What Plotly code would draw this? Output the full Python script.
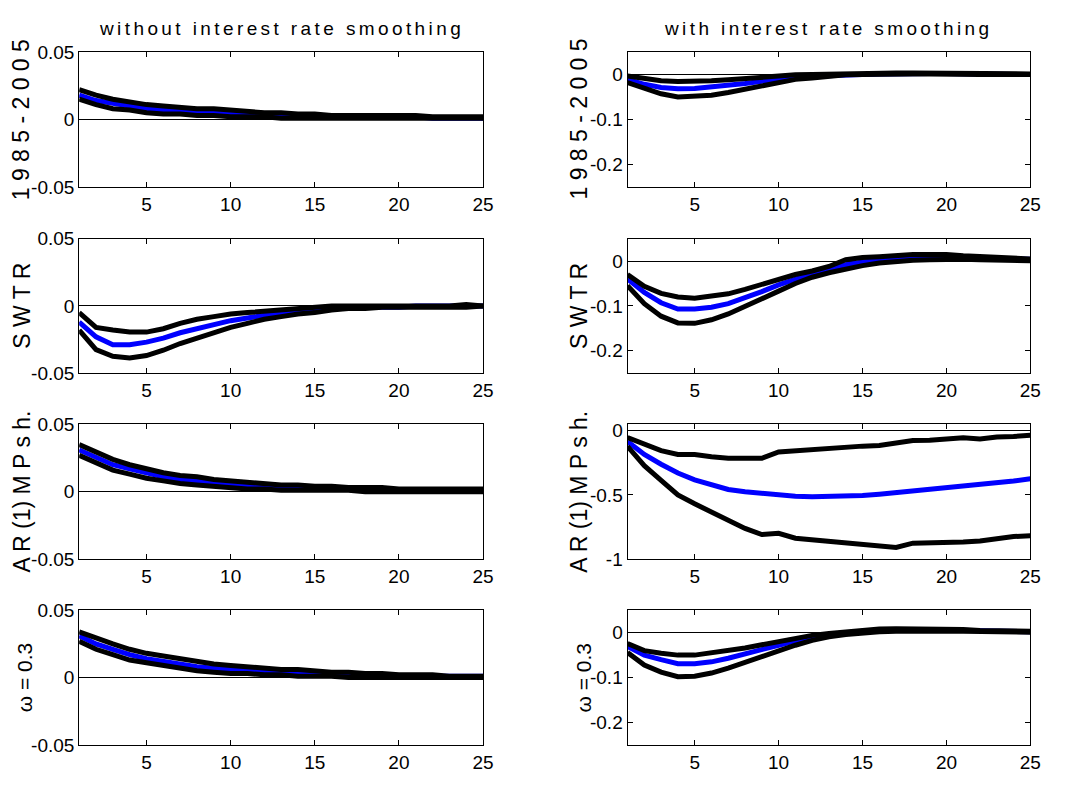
import plotly.graph_objects as go
from plotly.subplots import make_subplots

# horizon (quarters)
horizon = list(range(1, 26))

# ---- left column: without interest rate smoothing ----
l1_upper = [0.022, 0.018, 0.015, 0.013, 0.011, 0.010, 0.009, 0.008, 0.008, 0.007, 0.006, 0.005, 0.005,
            0.004, 0.004, 0.003, 0.003, 0.003, 0.003, 0.003, 0.003, 0.002, 0.002, 0.002, 0.002]
l1_mid = [0.018, 0.014, 0.012, 0.010, 0.008, 0.007, 0.006, 0.005, 0.005, 0.004, 0.004, 0.003, 0.003,
          0.003, 0.002, 0.002, 0.002, 0.002, 0.002, 0.002, 0.002, 0.001, 0.001, 0.001, 0.001]
l1_lower = [0.015, 0.011, 0.008, 0.007, 0.005, 0.004, 0.004, 0.003, 0.003, 0.002, 0.002, 0.002, 0.001,
            0.001, 0.001, 0.001, 0.001, 0.001, 0.001, 0.001, 0.001, 0.001, 0.001, 0.001, 0.001]

l2_upper = [-0.005, -0.016, -0.018, -0.0195, -0.0195, -0.017, -0.013, -0.010, -0.008, -0.006, -0.005, -0.004, -0.003,
            -0.002, -0.001, 0.000, 0.000, 0.000, 0.000, 0.000, 0.000, 0.000, 0.000, 0.001, 0.000]
l2_mid = [-0.012, -0.023, -0.029, -0.029, -0.027, -0.024, -0.020, -0.017, -0.014, -0.011, -0.009, -0.007, -0.005,
          -0.004, -0.003, -0.002, -0.001, -0.001, -0.001, -0.001, 0.000, 0.000, 0.000, 0.000, 0.000]
l2_lower = [-0.018, -0.0326, -0.0375, -0.0387, -0.037, -0.033, -0.028, -0.024, -0.020, -0.016, -0.013, -0.010, -0.008,
            -0.006, -0.005, -0.003, -0.002, -0.002, -0.001, -0.001, -0.001, -0.001, -0.001, -0.001, 0.000]

l3_upper = [0.035, 0.029, 0.024, 0.020, 0.017, 0.014, 0.012, 0.011, 0.009, 0.008, 0.007, 0.006, 0.005,
            0.005, 0.004, 0.004, 0.003, 0.003, 0.003, 0.002, 0.002, 0.002, 0.002, 0.002, 0.002]
l3_mid = [0.031, 0.025, 0.020, 0.017, 0.014, 0.011, 0.009, 0.008, 0.007, 0.006, 0.005, 0.004, 0.004,
          0.003, 0.003, 0.002, 0.002, 0.002, 0.001, 0.001, 0.001, 0.001, 0.001, 0.001, 0.001]
l3_lower = [0.027, 0.021, 0.016, 0.013, 0.010, 0.008, 0.006, 0.005, 0.004, 0.003, 0.002, 0.002, 0.001,
            0.001, 0.001, 0.001, 0.001, 0.000, 0.000, 0.000, 0.000, 0.000, 0.000, 0.000, 0.000]

l4_upper = [0.034, 0.029, 0.025, 0.021, 0.018, 0.016, 0.014, 0.012, 0.010, 0.009, 0.008, 0.007, 0.006,
            0.006, 0.005, 0.004, 0.004, 0.003, 0.003, 0.002, 0.002, 0.002, 0.001, 0.001, 0.001]
l4_mid = [0.031, 0.025, 0.021, 0.017, 0.014, 0.012, 0.010, 0.008, 0.007, 0.006, 0.005, 0.004, 0.003,
          0.003, 0.002, 0.002, 0.002, 0.001, 0.001, 0.001, 0.001, 0.001, 0.001, 0.001, 0.001]
l4_lower = [0.027, 0.021, 0.017, 0.013, 0.011, 0.009, 0.007, 0.005, 0.004, 0.003, 0.003, 0.002, 0.002,
            0.001, 0.001, 0.001, 0.000, 0.000, 0.000, 0.000, 0.000, 0.000, 0.000, 0.000, 0.000]

# ---- right column: with interest rate smoothing ----
r1_upper = [-0.0035, -0.010, -0.014, -0.016, -0.016, -0.014, -0.012, -0.009, -0.006, -0.003, -0.001, 0.000, 0.001,
            0.002, 0.002, 0.003, 0.003, 0.003, 0.003, 0.002, 0.002, 0.002, 0.001, 0.001, 0.001]
r1_mid = [-0.011, -0.022, -0.029, -0.032, -0.031, -0.028, -0.025, -0.020, -0.015, -0.010, -0.007, -0.004, -0.002,
          -0.001, 0.000, 0.001, 0.002, 0.002, 0.002, 0.002, 0.001, 0.001, 0.001, 0.000, 0.000]
r1_lower = [-0.018, -0.030, -0.043, -0.050, -0.049, -0.046, -0.040, -0.033, -0.025, -0.017, -0.011, -0.008, -0.004,
            -0.001, 0.000, 0.001, 0.001, 0.001, 0.001, 0.000, 0.000, 0.000, 0.000, 0.000, 0.000]

r2_upper = [-0.030, -0.056, -0.072, -0.080, -0.083, -0.079, -0.073, -0.063, -0.052, -0.040, -0.030, -0.022, -0.012,
            0.003, 0.008, 0.010, 0.013, 0.015, 0.015, 0.015, 0.012, 0.010, 0.010, 0.007, 0.005]
r2_mid = [-0.040, -0.070, -0.093, -0.107, -0.107, -0.103, -0.095, -0.082, -0.068, -0.053, -0.040, -0.028, -0.018,
          -0.008, -0.002, 0.003, 0.006, 0.008, 0.009, 0.009, 0.008, 0.007, 0.006, 0.005, 0.004]
r2_lower = [-0.055, -0.095, -0.123, -0.138, -0.139, -0.131, -0.118, -0.102, -0.085, -0.067, -0.050, -0.036, -0.026,
            -0.017, -0.010, -0.004, 0.000, 0.002, 0.003, 0.004, 0.004, 0.003, 0.003, 0.001, 0.001]

r3_upper = [-0.053, -0.109, -0.155, -0.185, -0.185, -0.203, -0.215, -0.215, -0.215, -0.165, -0.155, -0.148, -0.140,
            -0.130, -0.120, -0.115, -0.100, -0.076, -0.075, -0.065, -0.055, -0.065, -0.048, -0.045, -0.035]
r3_mid = [-0.084, -0.185, -0.261, -0.330, -0.383, -0.425, -0.458, -0.476, -0.490, -0.501, -0.510, -0.514, -0.514,
          -0.514, -0.505, -0.495, -0.482, -0.476, -0.460, -0.450, -0.433, -0.425, -0.408, -0.392, -0.375]
r3_lower = [-0.122, -0.273, -0.387, -0.501, -0.570, -0.636, -0.704, -0.762, -0.810, -0.800, -0.838, -0.850, -0.860,
            -0.868, -0.880, -0.894, -0.911, -0.877, -0.877, -0.868, -0.868, -0.860, -0.843, -0.825, -0.820]

r4_upper = [-0.024, -0.040, -0.046, -0.050, -0.050, -0.045, -0.040, -0.034, -0.027, -0.020, -0.012, -0.006, -0.002,
            0.002, 0.005, 0.008, 0.009, 0.009, 0.009, 0.009, 0.007, 0.005, 0.004, 0.003, 0.003]
r4_mid = [-0.031, -0.050, -0.060, -0.069, -0.069, -0.065, -0.057, -0.048, -0.038, -0.028, -0.018, -0.009, -0.004,
          0.000, 0.003, 0.005, 0.006, 0.007, 0.007, 0.006, 0.005, 0.004, 0.003, 0.002, 0.002]
r4_lower = [-0.044, -0.072, -0.088, -0.098, -0.097, -0.090, -0.079, -0.066, -0.053, -0.040, -0.028, -0.017, -0.009,
            -0.004, 0.000, 0.002, 0.003, 0.004, 0.004, 0.004, 0.003, 0.003, 0.002, 0.001, 0.001]

column_titles = ["without interest rate smoothing", "with interest rate smoothing"]
row_labels = ["1 9 8 5 - 2 0 0 5", "S W T R", "A R (1) M P s h.", "\u03c9 = 0.3"]
x_ticks = [5, 10, 15, 20, 25]
left_ticks = [-0.05, 0, 0.05]
left_ticktext = ["-0.05", "0", "0.05"]
right_ticks = [-0.2, -0.1, 0]
right_ticktext = ["-0.2", "-0.1", "0"]
ar_ticks = [-1, -0.5, 0]
ar_ticktext = ["-1", "-0.5", "0"]

panels = [
    [(l1_upper, l1_mid, l1_lower), (r1_upper, r1_mid, r1_lower)],
    [(l2_upper, l2_mid, l2_lower), (r2_upper, r2_mid, r2_lower)],
    [(l3_upper, l3_mid, l3_lower), (r3_upper, r3_mid, r3_lower)],
    [(l4_upper, l4_mid, l4_lower), (r4_upper, r4_mid, r4_lower)],
]

W, H = 1077, 787
FONT = "Liberation Sans, Arial, Helvetica, sans-serif"

# plot-area geometry in pixels
col_x = [(80, 488), (634, 1041)]
row_y = [(43, 182), (235, 373), (425.7, 564), (616.7, 755)]
# horizontal gap between the axis line and the centre of the row label
label_gap = [(58, 49), (58, 49), (58, 49), (55, 44)]

fig = make_subplots(rows=4, cols=2)

for r in range(4):
    for c in range(2):
        upper, mid, lower = panels[r][c]
        fig.add_trace(go.Scatter(x=horizon, y=mid, mode="lines",
                                 line=dict(color="#0000ff", width=5), showlegend=False),
                      row=r + 1, col=c + 1)
        for band in (upper, lower):
            fig.add_trace(go.Scatter(x=horizon, y=band, mode="lines",
                                     line=dict(color="black", width=5), showlegend=False),
                          row=r + 1, col=c + 1)

        x0, x1 = col_x[c]
        y0, y1 = row_y[r]
        fig.update_xaxes(domain=[x0 / W, x1 / W], range=[1, 25], tickvals=x_ticks,
                         row=r + 1, col=c + 1)
        if c == 0:
            yr, tv, tt = [-0.05, 0.05], left_ticks, left_ticktext
        elif r == 2:
            yr, tv, tt = [-1, 0.05], ar_ticks, ar_ticktext
        else:
            yr, tv, tt = [-0.25, 0.05], right_ticks, right_ticktext
        fig.update_yaxes(domain=[1 - y1 / H, 1 - y0 / H], range=yr, tickvals=tv, ticktext=tt,
                         row=r + 1, col=c + 1)

        # row label at the left of each panel
        small = r == 3
        fig.add_annotation(text=row_labels[r], textangle=-90, xref="paper", yref="paper",
                           x=(x0 - label_gap[r][c]) / W, y=1 - (y0 + y1) / 2 / H, showarrow=False,
                           xanchor="center", yanchor="middle",
                           font=dict(family=FONT, size=21 if small else 23, color="black"))

for c in range(2):
    x0, x1 = col_x[c]
    fig.add_annotation(text="<span style='letter-spacing:3.4px'>" + column_titles[c] + "</span>",
                       xref="paper", yref="paper",
                       x=(x0 + x1) / 2 / W, y=1 - 19 / H, showarrow=False,
                       xanchor="center", yanchor="middle",
                       font=dict(family=FONT, size=19, color="black"))

fig.update_xaxes(showline=True, linecolor="black", linewidth=1, mirror="ticks",
                 ticks="inside", ticklen=5, tickcolor="black", showgrid=False, zeroline=False,
                 tickfont=dict(family=FONT, size=19, color="black"))
fig.update_yaxes(showline=True, linecolor="black", linewidth=1, mirror="ticks",
                 ticks="inside", ticklen=5, tickcolor="black", showgrid=False,
                 zeroline=True, zerolinecolor="black", zerolinewidth=1,
                 tickfont=dict(family=FONT, size=19, color="black"))

fig.update_layout(width=W, height=H, autosize=False, margin=dict(l=0, r=0, t=0, b=0),
                  plot_bgcolor="white", paper_bgcolor="white", showlegend=False)

fig.write_html("out.html")
